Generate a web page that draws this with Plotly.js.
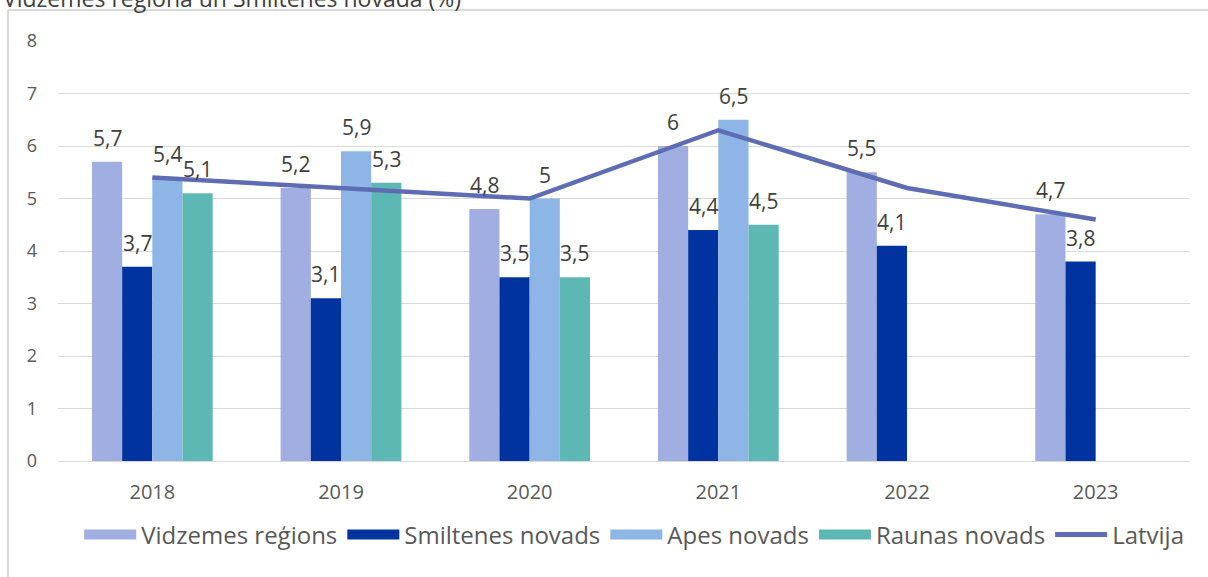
<!DOCTYPE html>
<html>
<head>
<meta charset="utf-8">
<script src="https://cdn.plot.ly/plotly-3.0.1.min.js"></script>
<style>html,body{margin:0;padding:0;background:#fff;}#chart{width:1208px;height:577px;}</style>
</head>
<body>
<div id="chart"></div>
<script>
const years = ['2018','2019','2020','2021','2022','2023'];
const vidzeme = [5.7, 5.2, 4.8, 6.0, 5.5, 4.7];
const smiltene = [3.7, 3.1, 3.5, 4.4, 4.1, 3.8];
const apes = [5.4, 5.9, 5.0, 6.5, null, null];
const raunas = [5.1, 5.3, 3.5, 4.5, null, null];
const latvija = [5.4, 5.2, 5.0, 6.3, 5.2, 4.6];
const seriesNames = ['Vidzemes reģions', 'Smiltenes novads', 'Apes novads', 'Raunas novads', 'Latvija'];
const titleText = 'Vidzemes reģionā un Smiltenes novadā (%)';

const colors = ['#A0AEE2', '#0033A0', '#8DB6E7', '#5DB8B3', '#5E6DB3'];
const barSeries = [vidzeme, smiltene, apes, raunas];
const fmt = v => String(v).replace('.', ',');

const data = [];
barSeries.forEach((ys, i) => {
  data.push({
    type: 'bar', name: seriesNames[i], x: years, y: ys,
    marker: {color: colors[i]}, showlegend: false, hoverinfo: 'skip'
  });
});
data.push({type: 'scatter', mode: 'lines', name: seriesNames[4], x: years, y: latvija,
  line: {color: colors[4], width: 4.5}, showlegend: false, hoverinfo: 'skip'});
// legend entries (wide colour swatches as in the reference)
barSeries.forEach((ys, i) => {
  data.push({type: 'scatter', mode: 'lines', name: seriesNames[i], x: [years[0]], y: [null],
    line: {color: colors[i], width: 15}, hoverinfo: 'skip'});
});
data.push({type: 'scatter', mode: 'lines', name: seriesNames[4], x: [years[0]], y: [null],
  line: {color: colors[4], width: 5}, hoverinfo: 'skip'});

// data labels above the bars (x = category index on the category axis)
const nBars = 4, bargap = 0.36;
const catPx = (1208 - 58 - 18) / years.length;
const barPx = catPx * (1 - bargap) / nBars;
const annotations = [];
barSeries.forEach((ys, i) => {
  ys.forEach((v, j) => {
    if (v === null) return;
    annotations.push({x: j, y: v, xref: 'x', yref: 'y', text: fmt(v), showarrow: false,
      xshift: (i - (nBars - 1) / 2) * barPx, yshift: 24, yanchor: 'middle',
      font: {family: 'Open Sans, sans-serif', size: 21, color: '#404040'}});
  });
});
annotations.push({text: titleText, xref: 'paper', yref: 'paper', x: -0.05, xanchor: 'left',
  y: 1.060, yanchor: 'bottom', showarrow: false,
  font: {size: 23, color: '#404040', family: 'Open Sans, sans-serif'}});

const layout = {
  width: 1208, height: 577,
  margin: {l: 58, r: 18, t: 41, b: 116},
  paper_bgcolor: '#fff', plot_bgcolor: '#fff',
  font: {family: 'Open Sans, sans-serif', color: '#595959'},
  separators: ', ',
  barmode: 'group', bargap: bargap, bargroupgap: 0,
  showlegend: true,
  legend: {orientation: 'h', x: 0.509, xanchor: 'center', y: -0.176, yanchor: 'middle',
           font: {size: 24, color: '#595959'}, traceorder: 'normal', itemwidth: 52},
  xaxis: {type: 'category', categoryorder: 'array', categoryarray: years, range: [-0.5, years.length - 0.5],
          showgrid: false, showline: true, linecolor: '#d9d9d9',
          ticks: '', tickfont: {size: 20, color: '#595959'}, ticklabelstandoff: 13},
  yaxis: {range: [0, 8], dtick: 1, showgrid: true, gridcolor: '#d9d9d9', zeroline: false,
          ticks: '', tickfont: {size: 18, color: '#595959'}, ticklabelstandoff: 20},
  shapes: [
    {type: 'line', xref: 'paper', yref: 'paper', x0: -0.0442, x1: 1.2, y0: 1.0738, y1: 1.0738,
     line: {color: '#d9d9d9', width: 2}},
    {type: 'line', xref: 'paper', yref: 'paper', x0: -0.0442, x1: -0.0442, y0: 1.0738, y1: -0.3,
     line: {color: '#d9d9d9', width: 2}}
  ],
  annotations: annotations
};
Plotly.newPlot('chart', data, layout, {displayModeBar: false, staticPlot: true});
</script>
</body>
</html>
